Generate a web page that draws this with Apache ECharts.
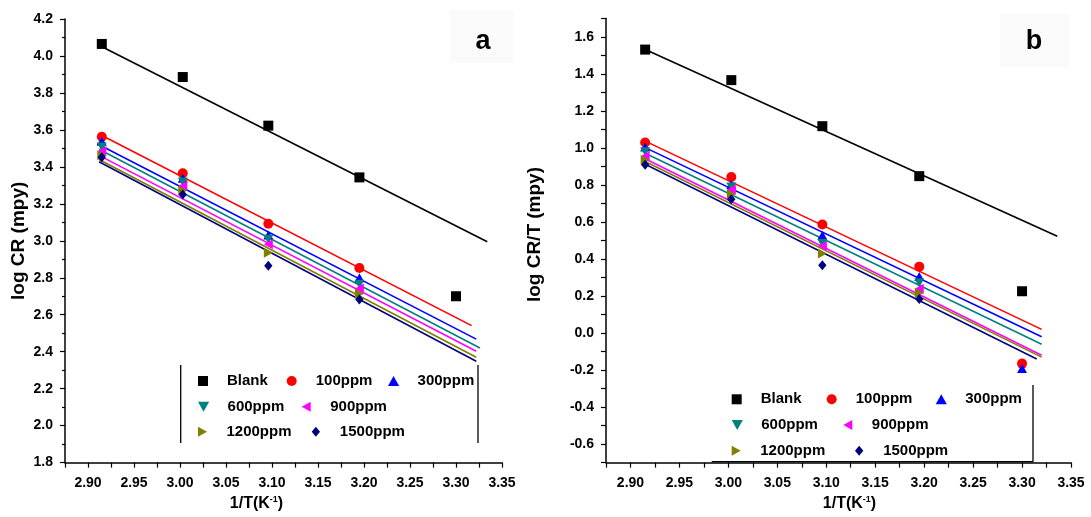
<!DOCTYPE html>
<html><head><meta charset="utf-8">
<script src="https://cdn.jsdelivr.net/npm/echarts@6/dist/echarts.min.js"></script>
<style>html,body{margin:0;padding:0;background:#fff}#c{width:1091px;height:517px}</style>
</head><body><div id="c"></div>
<script>
// ---- data ----
const xValues = [2.915, 3.003, 3.096, 3.195, 3.300];
const seriesNames = ['Blank', '100ppm', '300ppm', '600ppm', '900ppm', '1200ppm', '1500ppm'];
const xTickLabels = ['2.90', '2.95', '3.00', '3.05', '3.10', '3.15', '3.20', '3.25', '3.30', '3.35'];

// panel a: log CR (mpy)
const aBlank = [4.065, 3.886, 3.623, 3.343, 2.70];
const a100 = [3.563, 3.365, 3.092, 2.853];
const a300 = [3.538, 3.338, 3.032, 2.800];
const a600 = [3.508, 3.318, 3.008, 2.765];
const a900 = [3.484, 3.296, 2.982, 2.742];
const a1200 = [3.463, 3.272, 2.935, 2.714];
const a1500 = [3.452, 3.250, 2.865, 2.683];
// panel a fitted lines: [x, y] start and end
const aFitBlank = [[2.913, 4.055], [3.334, 2.995]];
const aFit100 = [[2.913, 3.575], [3.317, 2.541]];
const aFit300 = [[2.910, 3.525], [3.322, 2.468]];
const aFit600 = [[2.912, 3.495], [3.326, 2.420]];
const aFit900 = [[2.912, 3.462], [3.322, 2.402]];
const aFit1200 = [[2.912, 3.440], [3.322, 2.370]];
const aFit1500 = [[2.912, 3.428], [3.322, 2.348]];

// panel b: log CR/T (mpy)
const bBlank = [1.532, 1.367, 1.118, 0.848, 0.226];
const b100 = [1.030, 0.843, 0.587, 0.359, -0.165];
const b300 = [1.005, 0.803, 0.528, 0.306, -0.191];
const b600 = [0.980, 0.790, 0.484, 0.270];
const b900 = [0.955, 0.775, 0.470, 0.240];
const b1200 = [0.935, 0.750, 0.430, 0.216];
const b1500 = [0.910, 0.723, 0.367, 0.184];
const bFitBlank = [[2.914, 1.535], [3.336, 0.523]];
const bFit100 = [[2.914, 1.040], [3.320, 0.020]];
const bFit300 = [[2.914, 1.005], [3.320, -0.020]];
const bFit600 = [[2.914, 0.975], [3.320, -0.060]];
const bFit900 = [[2.914, 0.945], [3.320, -0.120]];
const bFit1200 = [[2.914, 0.930], [3.320, -0.130]];
const bFit1500 = [[2.914, 0.915], [3.315, -0.140]];

// ---- styling ----
const colors = ['#000000', '#ff0000', '#0000ff', '#008080', '#ff00ff', '#808000', '#000080'];
const symbols = [
  'path://M0,0 L10,0 L10,10 L0,10 Z',
  'circle',
  'path://M5,0 L10,9 L0,9 Z',
  'path://M0,0 L10,0 L5,9 Z',
  'path://M9,0 L9,10 L0,5 Z',
  'path://M0,0 L9,5 L0,10 Z',
  'path://M5,0 L10,6 L5,12 L0,6 Z'
];
const tickFont = '"Liberation Sans Narrow", "Arial Narrow", "Liberation Sans", sans-serif';
const mainFont = '"Liberation Sans", Arial, sans-serif';

const aVals = [aBlank, a100, a300, a600, a900, a1200, a1500];
const aFits = [aFitBlank, aFit100, aFit300, aFit600, aFit900, aFit1200, aFit1500];
const bVals = [bBlank, b100, b300, b600, b900, b1200, b1500];
const bFits = [bFitBlank, bFit100, bFit300, bFit600, bFit900, bFit1200, bFit1500];

function xLabel(v) {
  const k = Math.round(v * 1000);
  if (k % 50 !== 0) return '';
  const s = (k / 1000).toFixed(2);
  return xTickLabels.indexOf(s) >= 0 ? s : '';
}
function yLabelB(v) {
  const k = Math.round(v * 10);
  return (k % 2 === 0) ? (k / 10).toFixed(1) : '';
}

const series = [];
function addPanel(vals, fits, idx) {
  fits.forEach((f, i) => {
    series.push({
      name: seriesNames[i] + ' fit ' + idx, type: 'line', xAxisIndex: idx, yAxisIndex: idx,
      data: f, symbol: 'none', silent: true, z: 2,
      lineStyle: { color: colors[i], width: 1.6 }
    });
  });
  vals.forEach((v, i) => {
    series.push({
      name: seriesNames[i], type: 'scatter', xAxisIndex: idx, yAxisIndex: idx,
      data: v.map((y, j) => [xValues[j], y]),
      symbol: symbols[i], symbolSize: 10, symbolKeepAspect: true, z: 3,
      itemStyle: { color: colors[i], opacity: 1 }
    });
  });
}
addPanel(aVals, aFits, 0);
addPanel(bVals, bFits, 1);

// legend item positions (icon center x, row center y)
const legA = [[203, 381], [291.7, 381], [393, 381], [203, 406.7], [306.7, 406.7], [203, 431.7], [316.7, 431.7]];
const legB = [[736.7, 399.3], [831.7, 399.3], [940.7, 399.3], [736.7, 425], [848.3, 425], [736.7, 450.7], [860, 450.7]];
const legends = [];
[legA, legB].forEach(pos => {
  pos.forEach((p, i) => {
    legends.push({
      data: [{ name: seriesNames[i], icon: symbols[i] }], left: p[0] - 5, top: p[1] - 8, padding: 0,
      itemWidth: 38, itemHeight: 10, selectedMode: false, symbolKeepAspect: true,
      textStyle: { fontSize: 15, fontWeight: 'bold', fontFamily: mainFont, color: '#000', lineHeight: 16 }
    });
  });
});

function xAxisCfg(gi, nameShift) {
  return {
    type: 'value', gridIndex: gi, min: 2.875, max: 3.35, interval: 0.025,
    axisLine: { show: true, onZero: false, lineStyle: { color: '#000', width: 1.5 } },
    axisTick: { show: true, inside: false, length: 5, lineStyle: { color: '#000', width: 1.2 } },
    axisLabel: { formatter: xLabel, margin: 14, fontSize: 14, fontWeight: 'bold', fontFamily: tickFont, color: '#000' },
    splitLine: { show: false },
    name: '{n|1/T(}{b|K}{s|-1}{n|)}', nameLocation: 'middle', nameGap: 24,
    nameTextStyle: {
      padding: nameShift < 0 ? [0, -2 * nameShift, 0, 0] : [0, 0, 0, 2 * nameShift],
      rich: {
        n: { fontSize: 16, fontFamily: mainFont, color: '#000', fontWeight: 'bold' },
        b: { fontSize: 16, fontFamily: mainFont, color: '#000', fontWeight: 'bold' },
        s: { fontSize: 9, fontFamily: mainFont, color: '#000', fontWeight: 'bold', verticalAlign: 'top', padding: [0, 0, 8, 0] }
      }
    }
  };
}

const option = {
  animation: false,
  backgroundColor: '#ffffff',
  grid: [
    { left: 65, top: 19, width: 437, height: 448 },
    { left: 606, top: 18.5, width: 465, height: 450.3 }
  ],
  xAxis: [xAxisCfg(0, -27), xAxisCfg(1, 11)],
  yAxis: [
    {
      type: 'value', gridIndex: 0, min: 1.8, max: 4.2, interval: 0.2,
      axisLine: { show: true, onZero: false, lineStyle: { color: '#000', width: 1.5 } },
      axisTick: { show: true, inside: false, length: 5, lineStyle: { color: '#000', width: 1.2 } },
      minorTick: { show: true, splitNumber: 2, length: 3, lineStyle: { color: '#000', width: 1.2 } },
      axisLabel: { formatter: v => v.toFixed(1), margin: 12, fontSize: 14, fontWeight: 'bold', fontFamily: tickFont, color: '#000' },
      splitLine: { show: false },
      name: 'log CR (mpy)', nameLocation: 'middle', nameGap: 37,
      nameTextStyle: { fontSize: 19, fontWeight: 'bold', fontFamily: mainFont, color: '#000' }
    },
    {
      type: 'value', gridIndex: 1, min: -0.7, max: 1.7, interval: 0.1,
      axisLine: { show: true, onZero: false, lineStyle: { color: '#000', width: 1.5 } },
      axisTick: { show: true, inside: false, length: 5, lineStyle: { color: '#000', width: 1.2 } },
      axisLabel: { formatter: yLabelB, margin: 12, fontSize: 14, fontWeight: 'bold', fontFamily: tickFont, color: '#000' },
      splitLine: { show: false },
      name: 'log CR/T (mpy)', nameLocation: 'middle', nameGap: 62,
      nameTextStyle: { fontSize: 19, fontWeight: 'bold', fontFamily: mainFont, color: '#000', padding: [0, 0, 0, 12] }
    }
  ],
  legend: legends,
  graphic: [
    { type: 'rect', shape: { x: 450, y: 10, width: 63, height: 53 }, style: { fill: '#fafafa' }, z: 0 },
    { type: 'text', x: 483, y: 42, style: { text: 'a', font: 'bold 27px ' + mainFont, fill: '#000', align: 'center', verticalAlign: 'middle' }, z: 10 },
    { type: 'rect', shape: { x: 1000, y: 14, width: 70, height: 53 }, style: { fill: '#fafafa' }, z: 0 },
    { type: 'text', x: 1034, y: 42, style: { text: 'b', font: 'bold 27px ' + mainFont, fill: '#000', align: 'center', verticalAlign: 'middle' }, z: 10 },
    { type: 'line', shape: { x1: 180.7, y1: 365, x2: 180.7, y2: 443 }, style: { stroke: '#000', lineWidth: 1.3 }, z: 10 },
    { type: 'line', shape: { x1: 478, y1: 365, x2: 478, y2: 443 }, style: { stroke: '#000', lineWidth: 1.3 }, z: 10 },
    { type: 'line', shape: { x1: 711.7, y1: 461.7, x2: 1033, y2: 461.7 }, style: { stroke: '#000', lineWidth: 1.3 }, z: 10 },
    { type: 'line', shape: { x1: 1033, y1: 385, x2: 1033, y2: 461.7 }, style: { stroke: '#000', lineWidth: 1.3 }, z: 10 }
  ],
  series: series
};
const chart = echarts.init(document.getElementById('c'), null, { renderer: 'canvas' });
chart.setOption(option);
</script>
</body></html>
